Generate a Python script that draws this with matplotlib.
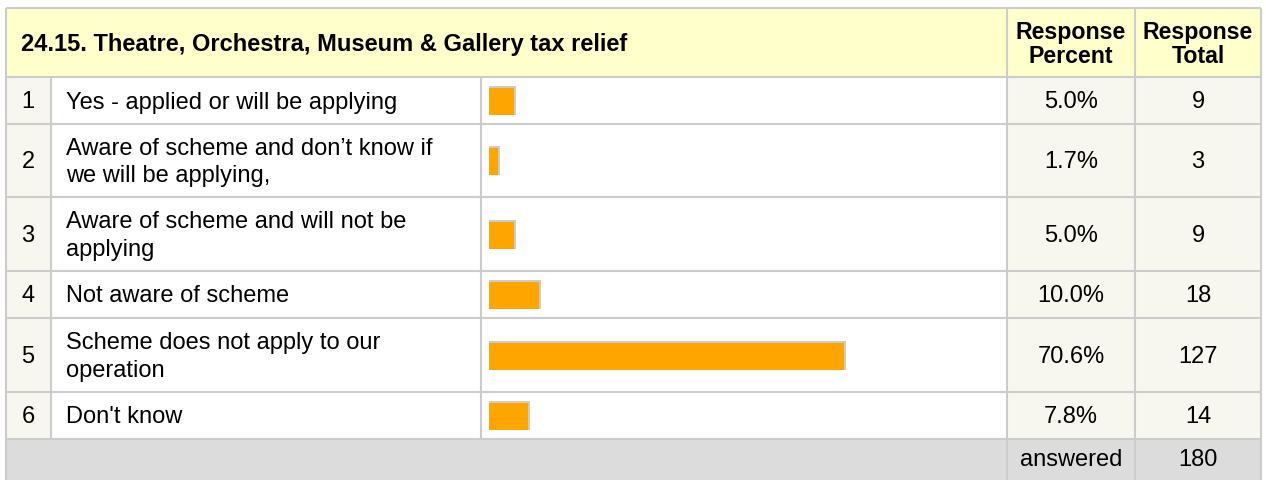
import matplotlib
matplotlib.use("Agg")
import matplotlib.pyplot as plt
from matplotlib.patches import Rectangle

plt.rcParams['font.family'] = ['Liberation Sans', 'DejaVu Sans']

title = "24.15. Theatre, Orchestra, Museum & Gallery tax relief"
numbers = ["1", "2", "3", "4", "5", "6"]
labels = [
    "Yes - applied or will be applying",
    "Aware of scheme and don\u2019t know if\nwe will be applying,",
    "Aware of scheme and will not be\napplying",
    "Not aware of scheme",
    "Scheme does not apply to our\noperation",
    "Don't know",
]
percents = [5.0, 1.7, 5.0, 10.0, 70.6, 7.8]
totals = [9, 3, 9, 18, 127, 14]
answered = 180

W, H = 1266, 481
fig = plt.figure(figsize=(W / 100, H / 100), dpi=100)
ax = fig.add_axes([0, 0, 1, 1])
ax.set_xlim(0, W)
ax.set_ylim(H, 0)
ax.axis('off')

# table layout in pixels
cols = [6, 51, 481, 1007, 1135, 1261]
rows = [9, 78, 125, 198, 272, 319, 393, 440, 481]
grid = '#CCCCCC'
beige = '#F7F7F0'
fs = 17
fsb = 16.7

# backgrounds
ax.add_patch(Rectangle((cols[0], rows[0]), cols[-1] - cols[0], rows[1] - rows[0], color='#FFFFCC', lw=0))
for i in range(len(numbers)):
    y0, y1 = rows[i + 1], rows[i + 2]
    ax.add_patch(Rectangle((cols[0], y0), cols[1] - cols[0], y1 - y0, color=beige, lw=0))
    ax.add_patch(Rectangle((cols[3], y0), cols[5] - cols[3], y1 - y0, color=beige, lw=0))
ax.add_patch(Rectangle((cols[0], rows[-2]), cols[-1] - cols[0], rows[-1] - rows[-2], color='#DCDCDC', lw=0))

# grid lines
lw = 1.5
ax.hlines(rows[:-1], cols[0], cols[-1], color=grid, lw=lw)
ax.vlines([cols[0], cols[-1]], rows[0], rows[-1], color=grid, lw=lw)
ax.vlines([cols[3], cols[4]], rows[0], rows[-1], color=grid, lw=lw)
ax.vlines([cols[1], cols[2]], rows[1], rows[-2], color=grid, lw=lw)

# header
ax.text(21, (rows[0] + rows[1]) / 2 + 1, title, fontsize=17, fontweight='bold', va='center', ha='left')
for c0, c1, s in [(cols[3], cols[4], "Response\nPercent"), (cols[4], cols[5], "Response\nTotal")]:
    ax.text((c0 + c1) / 2, (rows[0] + rows[1]) / 2 + 1, s, fontsize=fsb, fontweight='bold',
            ha='center', va='center', linespacing=1.05)

# body text
centers = [(rows[i + 1] + rows[i + 2]) / 2 for i in range(len(numbers))]
for i, c in enumerate(centers):
    ax.text(28, c + 1, numbers[i], fontsize=fs, ha='center', va='center')
    ax.text(66, c + 1, labels[i], fontsize=fs, ha='left', va='center', linespacing=1.3)
    ax.text((cols[3] + cols[4]) / 2, c + 1, f"{percents[i]:.1f}%", fontsize=fs, ha='center', va='center')
    ax.text((cols[4] + cols[5]) / 2, c + 1, str(totals[i]), fontsize=fs, ha='center', va='center')

fc = (rows[-2] + rows[-1]) / 2
ax.text((cols[3] + cols[4]) / 2, fc, "answered", fontsize=fs, ha='center', va='center')
ax.text((cols[4] + cols[5]) / 2, fc, str(answered), fontsize=fs, ha='center', va='center')

# bars: 0..100% across the bar area
bx = fig.add_axes([489 / W, 0, 503 / W, 1])
bx.set_xlim(0, 100)
bx.set_ylim(H, 0)
bx.axis('off')
bar_y = [c + 1 for c in centers]
bx.barh([y - 1 for y in bar_y], [p + 0.4 for p in percents], height=29, color='#CCCCCC', lw=0)
bx.barh(bar_y, percents, height=27, color='#FFA500', lw=0)

fig.savefig('out.png', dpi=100)
